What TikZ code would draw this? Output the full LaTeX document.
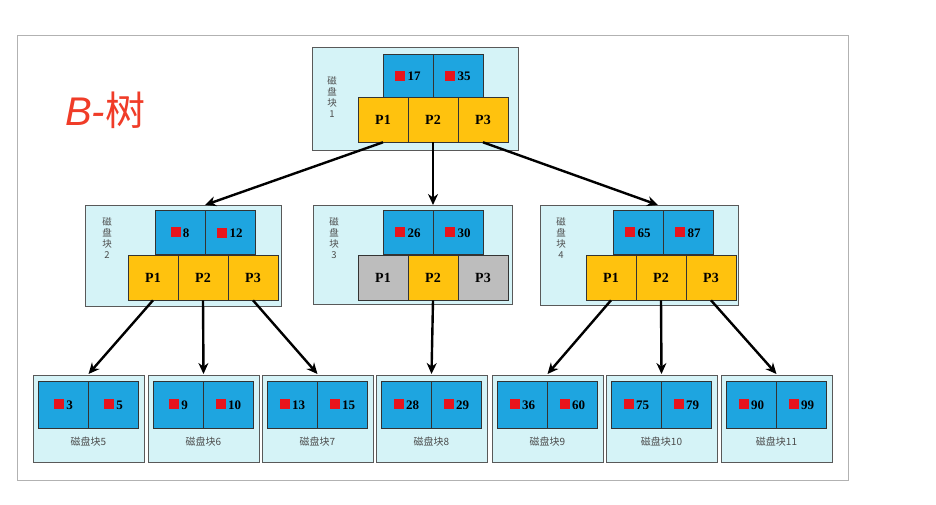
\documentclass[tikz,border=0pt]{standalone}
\usepackage{fontspec}
\setmainfont{Liberation Serif}
\newfontfamily\cjk{Noto Sans CJK SC}
\newfontfamily\ttl{Liberation Sans}
\usetikzlibrary{arrows.meta}
\definecolor{keyblue}{HTML}{1EA5E0}
\definecolor{blk}{HTML}{D5F3F7}
\definecolor{py}{HTML}{FFC20E}
\definecolor{pg}{HTML}{BDBDBD}
\definecolor{kr}{HTML}{E8141C}
\definecolor{tr}{HTML}{F03C28}
\newcommand{\kk}[1]{{\color{kr}\rule{10pt}{10pt}}\,#1}
\begin{document}
\begin{tikzpicture}[x=1pt,y=-1pt,
 blockbox/.style={draw=gray!70!black,fill=blk,line width=0.8pt},
 key/.style={draw=black!80,fill=keyblue,minimum width=50pt,minimum height=44pt,inner sep=0pt,font=\bfseries\fontsize{13}{13}\selectfont,line width=0.6pt},
 lkey/.style={key,minimum height=47pt},
 ptr/.style={draw=black!80,fill=py,minimum width=50pt,minimum height=45pt,inner sep=0pt,font=\bfseries\fontsize{14}{14}\selectfont,line width=0.6pt},
 gptr/.style={ptr,fill=pg},
 vlab/.style={font=\cjk\fontsize{9.5}{11}\selectfont,align=center,text=black!70},
 llab/.style={font=\cjk\fontsize{10}{10}\selectfont,text=black!70},
 arr/.style={-{Stealth[length=11pt,width=10pt]},line width=2.4pt}]
\useasboundingbox (0,0) rectangle (936,505);
\draw[draw=gray!60,fill=white] (17,35) rectangle (848,480);
\node[font=\ttl\itshape\fontsize{40}{40}\selectfont,text=tr] (title) at (105,110) {B-{\cjk 树}};
% root
\draw[blockbox] (312,47) rectangle (518,150);
\node[vlab] (l1) at (332,97) {磁\\盘\\块\\1};
\node[key] (k17) at (408,76) {\kk{17}};
\node[key] (k35) at (458,76) {\kk{35}};
\node[ptr] (r1) at (383,119.5) {P1};
\node[ptr] (r2) at (433,119.5) {P2};
\node[ptr] (r3) at (483,119.5) {P3};
% block 2
\draw[blockbox] (85,205) rectangle (281,306);
\node[vlab] (l2) at (107,238) {磁\\盘\\块\\2};
\node[key] (k8) at (180,232.5) {\kk{8}};
\node[key] (k12) at (230,232.5) {\kk{12}};
\node[ptr] (a1) at (153,277.5) {P1};
\node[ptr] (a2) at (203,277.5) {P2};
\node[ptr] (a3) at (253,277.5) {P3};
\coordinate (b2top) at (205,205);
% block 3
\draw[blockbox] (313,205) rectangle (512,304);
\node[vlab] (l3) at (334,238) {磁\\盘\\块\\3};
\node[key] (k26) at (408,232.5) {\kk{26}};
\node[key] (k30) at (458,232.5) {\kk{30}};
\node[gptr] (b1) at (383,277.5) {P1};
\node[ptr] (b2) at (433,277.5) {P2};
\node[gptr] (b3) at (483,277.5) {P3};
\coordinate (b3top) at (433,205);
% block 4
\draw[blockbox] (540,205) rectangle (738,305);
\node[vlab] (l4) at (561,238) {磁\\盘\\块\\4};
\node[key] (k65) at (638,232.5) {\kk{65}};
\node[key] (k87) at (688,232.5) {\kk{87}};
\node[ptr] (c1) at (611,277.5) {P1};
\node[ptr] (c2) at (661,277.5) {P2};
\node[ptr] (c3) at (711,277.5) {P3};
\coordinate (b4top) at (658,205);
% leaves
\foreach \x/\n/\a/\b in {33/5/3/5,148/6/9/10,262/7/13/15,376/8/28/29,492/9/36/60,606/10/75/79,721/11/90/99}{
 \draw[blockbox] (\x,375) rectangle ++(111,87);
 \node[lkey] (la\n) at (\x+30.5,404.5) {\kk{\a}};
 \node[lkey] (lb\n) at (\x+80.5,404.5) {\kk{\b}};
 \node[llab] (lt\n) at (\x+55.5,442) {磁盘块\n};
 \coordinate (leaf\n) at (\x+55.5,374);
}
% arrows
\draw[arr] (r1.south) -- (b2top);
\draw[arr] (r2.south) -- (b3top);
\draw[arr] (r3.south) -- (b4top);
\draw[arr] (a1.south) -- (leaf5);
\draw[arr] (a2.south) -- (leaf6);
\draw[arr] (a3.south) -- (leaf7);
\draw[arr] (b2.south) -- (leaf8);
\draw[arr] (c1.south) -- (leaf9);
\draw[arr] (c2.south) -- (leaf10);
\draw[arr] (c3.south) -- (leaf11);
\end{tikzpicture}
\end{document}
